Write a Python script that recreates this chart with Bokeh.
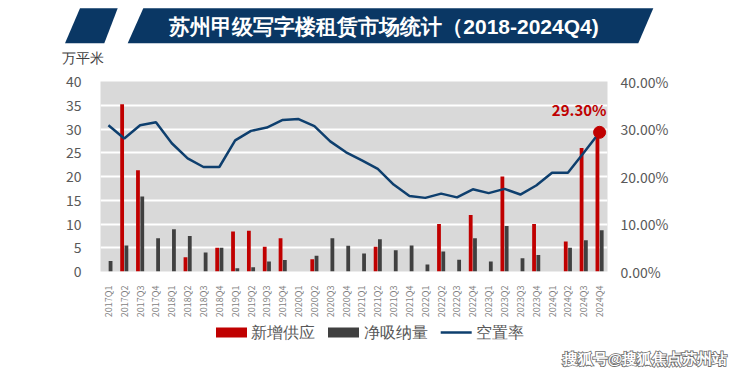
import math
from bokeh.plotting import figure
from bokeh.layouts import column
from bokeh.core.properties import value
from bokeh.models import (FactorRange, Range1d, LinearAxis, NumeralTickFormatter, FixedTicker,
                          ColumnDataSource, Div, LabelSet)
from bokeh.transform import dodge
from bokeh.embed import file_html
from bokeh.resources import INLINE

quarters = ["2017Q1", "2017Q2", "2017Q3", "2017Q4",
            "2018Q1", "2018Q2", "2018Q3", "2018Q4",
            "2019Q1", "2019Q2", "2019Q3", "2019Q4",
            "2020Q1", "2020Q2", "2020Q3", "2020Q4",
            "2021Q1", "2021Q2", "2021Q3", "2021Q4",
            "2022Q1", "2022Q2", "2022Q3", "2022Q4",
            "2023Q1", "2023Q2", "2023Q3", "2023Q4",
            "2024Q1", "2024Q2", "2024Q3", "2024Q4"]

supply = [0, 35.2, 21.3, 0,
          0, 3.0, 0, 5.0,
          8.4, 8.6, 5.2, 7.0,
          0, 2.6, 0, 0,
          0, 5.2, 0, 0,
          0, 10.0, 0, 11.9,
          0, 20.0, 0, 10.0,
          0, 6.3, 26.0, 29.5]

absorption = [2.2, 5.5, 15.8, 7.0,
              8.9, 7.5, 4.0, 5.0,
              0.7, 0.9, 2.1, 2.4,
              0, 3.3, 7.0, 5.4,
              3.8, 6.8, 4.5, 5.5,
              1.5, 4.2, 2.5, 7.0,
              2.1, 9.6, 2.8, 3.5,
              0, 5.0, 6.6, 8.7]

vacancy = [0.308, 0.280, 0.308, 0.314,
           0.270, 0.238, 0.220, 0.220,
           0.276, 0.296, 0.303, 0.319,
           0.321, 0.306, 0.274, 0.251,
           0.234, 0.216, 0.183, 0.159,
           0.155, 0.164, 0.156, 0.173,
           0.165, 0.174, 0.162, 0.181,
           0.208, 0.208, 0.250, 0.293]

left_ticks = [0, 5, 10, 15, 20, 25, 30, 35, 40]
right_ticks = [0, 0.1, 0.2, 0.3, 0.4]

title_text = "苏州甲级写字楼租赁市场统计（2018-2024Q4)"
unit_text = "万平米"
series_names = ["新增供应", "净吸纳量", "空置率"]
watermark = "搜狐号@搜狐焦点苏州站"

FONT = "Noto Sans CJK SC"
RED = "#C00000"
DARK = "#404040"
NAVY = "#0E3F6E"
BANNER = "#0A3764"
W = 740

# ---------- header: banner + title + unit ----------
head_html = f"""<svg xmlns="http://www.w3.org/2000/svg" width="{W}" height="70" style="display:block">
<polygon points="65,43.3 80,8.3 117.7,8.3 104.3,43.3" fill="{BANNER}"/>
<polygon points="127.7,43.3 143.3,8.3 653.3,8.3 638.3,43.3" fill="{BANNER}"/>
<text x="384" y="26.5" text-anchor="middle" dominant-baseline="central" font-family="{FONT}"
 font-size="21px" font-weight="bold" fill="white">{title_text}</text>
<text x="62" y="57.5" text-anchor="start" dominant-baseline="central" font-family="{FONT}"
 font-size="14px" fill="#404040">{unit_text}</text>
</svg>"""
head = Div(text=head_html, width=W, height=70, margin=0)

# ---------- main chart ----------
src = ColumnDataSource(dict(q=quarters, supply=supply, absorption=absorption, vac=vacancy))

p = figure(x_range=FactorRange(factors=quarters, range_padding=0), y_range=Range1d(0, 40),
           width=W, height=250, output_backend="svg", toolbar_location=None,
           min_border_left=100, min_border_right=133, min_border_top=11, min_border_bottom=48,
           background_fill_color="#D9D9D9", border_fill_color="white", outline_line_color=None)
p.extra_y_ranges = {"pct": Range1d(0, 0.4)}

p.vbar(x=dodge("q", -0.135, range=p.x_range), top="supply", width=0.24, source=src,
       fill_color=RED, line_color=None)
p.vbar(x=dodge("q", 0.135, range=p.x_range), top="absorption", width=0.24, source=src,
       fill_color=DARK, line_color=None)
p.line(x="q", y="vac", source=src, y_range_name="pct", line_color=NAVY, line_width=2.5)

last = ColumnDataSource(dict(q=[quarters[-1]], v=[vacancy[-1]],
                             t=[f"{vacancy[-1]*100:.2f}%"]))
p.scatter(x="q", y="v", source=last, y_range_name="pct", size=12, fill_color=RED, line_color=RED)
p.add_layout(LabelSet(x="q", y="v", text="t", source=last, y_range_name="pct",
                      x_offset=7, y_offset=23, text_align="right", text_baseline="middle",
                      text_font=value(FONT), text_font_size="15px", text_font_style="bold",
                      text_color=RED))

p.yaxis.ticker = FixedTicker(ticks=left_ticks)
p.ygrid.ticker = FixedTicker(ticks=left_ticks)
la = p.yaxis[0]
la.axis_line_color = None
la.major_tick_line_color = None
la.minor_tick_line_color = None
la.major_label_text_font = FONT
la.major_label_text_font_size = "14px"
la.major_label_text_color = "#595959"
la.major_label_standoff = 13

ra = LinearAxis(y_range_name="pct", ticker=FixedTicker(ticks=right_ticks),
                formatter=NumeralTickFormatter(format="0.00%"))
ra.axis_line_color = None
ra.major_tick_line_color = None
ra.minor_tick_line_color = None
ra.major_label_text_font = FONT
ra.major_label_text_font_size = "14px"
ra.major_label_text_color = "#595959"
ra.major_label_standoff = 7
p.add_layout(ra, "right")

xa = p.xaxis[0]
xa.axis_line_color = None
xa.major_tick_line_color = None
xa.minor_tick_line_color = None
xa.major_label_orientation = math.pi / 2
xa.major_label_text_font = FONT
xa.major_label_text_font_size = "9px"
xa.major_label_text_color = "#7F7F7F"
xa.major_label_standoff = 8

p.xgrid.grid_line_color = None
p.ygrid.grid_line_color = "white"
p.ygrid.grid_line_width = 2

# ---------- footer: legend + watermark ----------
foot_html = f"""<svg xmlns="http://www.w3.org/2000/svg" width="{W}" height="54" style="display:block">
<rect x="216" y="7.5" width="31" height="10" fill="{RED}"/>
<text x="250.5" y="12.5" dominant-baseline="central" font-family="{FONT}" font-size="16px"
 fill="#595959">{series_names[0]}</text>
<rect x="328" y="7.5" width="31" height="10" fill="{DARK}"/>
<text x="363.5" y="12.5" dominant-baseline="central" font-family="{FONT}" font-size="16px"
 fill="#595959">{series_names[1]}</text>
<line x1="440.7" y1="12.5" x2="471.7" y2="12.5" stroke="{NAVY}" stroke-width="2.5"/>
<text x="475.5" y="12.5" dominant-baseline="central" font-family="{FONT}" font-size="16px"
 fill="#595959">{series_names[2]}</text>
<text x="562.7" y="38.5" text-anchor="start" dominant-baseline="central" font-family="{FONT}"
 font-size="15px" font-weight="bold" fill="white" stroke="#6a6a6a" stroke-width="1.6"
 paint-order="stroke">{watermark}</text>
</svg>"""
foot = Div(text=foot_html, width=W, height=54, margin=0)

layout = column(head, p, foot, spacing=0)
open("out.html", "w").write(file_html(layout, INLINE))
